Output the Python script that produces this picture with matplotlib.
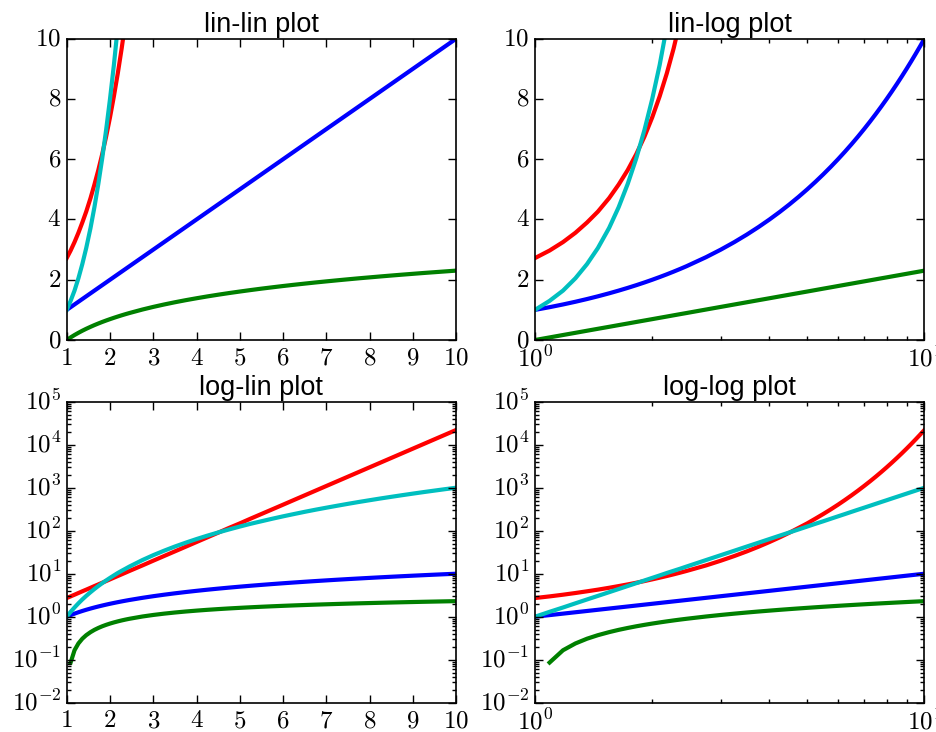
import math
import matplotlib
matplotlib.use("Agg")
import matplotlib.pyplot as plt
from matplotlib.ticker import FuncFormatter, LogLocator, NullFormatter

# values
x_vals = [1.0, 1.09, 1.18, 1.27, 1.36, 1.45, 1.55, 1.64, 1.73, 1.82, 1.91, 2.0,
          2.09, 2.18, 2.27, 2.36, 2.45, 2.75, 3.0, 3.25, 3.5, 3.75, 4.0, 4.25,
          4.5, 4.75, 5.0, 5.25, 5.5, 5.75, 6.0, 6.25, 6.5, 6.75, 7.0, 7.25,
          7.5, 7.75, 8.0, 8.25, 8.5, 8.75, 9.0, 9.25, 9.5, 9.75, 10.0]
blue_vals = [1.0, 1.09, 1.18, 1.27, 1.36, 1.45, 1.55, 1.64, 1.73, 1.82, 1.91, 2.0,
             2.09, 2.18, 2.27, 2.36, 2.45, 2.75, 3.0, 3.25, 3.5, 3.75, 4.0, 4.25,
             4.5, 4.75, 5.0, 5.25, 5.5, 5.75, 6.0, 6.25, 6.5, 6.75, 7.0, 7.25,
             7.5, 7.75, 8.0, 8.25, 8.5, 8.75, 9.0, 9.25, 9.5, 9.75, 10.0]
red_vals = [2.72, 2.97, 3.25, 3.56, 3.90, 4.26, 4.71, 5.16, 5.64, 6.17, 6.75,
            7.39, 8.09, 8.85, 9.68, 10.6, 11.6, 15.6, 20.1, 25.8, 33.1, 42.5,
            54.6, 70.1, 90.0, 116, 148, 191, 245, 314, 403, 518, 665, 854, 1097,
            1408, 1808, 2322, 2981, 3828, 4915, 6311, 8103, 10405, 13360, 17154,
            22026]
cyan_vals = [1.0, 1.30, 1.64, 2.05, 2.52, 3.05, 3.72, 4.41, 5.18, 6.03, 6.97,
             8.0, 9.13, 10.4, 11.7, 13.1, 14.7, 20.8, 27.0, 34.3, 42.9, 52.7,
             64.0, 76.8, 91.1, 107, 125, 145, 166, 190, 216, 244, 275, 308, 343,
             381, 422, 466, 512, 562, 614, 670, 729, 792, 857, 927, 1000]
green_vals = [0.0, 0.086, 0.166, 0.239, 0.308, 0.372, 0.438, 0.495, 0.548,
              0.599, 0.647, 0.693, 0.737, 0.779, 0.820, 0.859, 0.896, 1.012,
              1.099, 1.179, 1.253, 1.322, 1.386, 1.447, 1.504, 1.558, 1.609,
              1.658, 1.705, 1.749, 1.792, 1.833, 1.872, 1.910, 1.946, 1.981,
              2.015, 2.048, 2.079, 2.110, 2.140, 2.169, 2.197, 2.225, 2.251,
              2.277, 2.303]

titles = ["lin-lin plot", "lin-log plot", "log-lin plot", "log-log plot"]
x_scales = ["linear", "log", "linear", "log"]
y_scales = ["linear", "linear", "log", "log"]

plt.style.use("classic")
plt.rcParams["mathtext.fontset"] = "cm"
plt.rcParams["font.family"] = ["Liberation Sans", "DejaVu Sans"]

fig = plt.figure(figsize=(9.36, 7.32), dpi=100, facecolor="white")

positions = [
    [0.0713, 0.5355, 0.416, 0.4116],
    [0.5716, 0.5355, 0.416, 0.4116],
    [0.0713, 0.0400, 0.416, 0.4112],
    [0.5716, 0.0400, 0.416, 0.4112],
]

lin_fmt = FuncFormatter(lambda v, p: r"$%d$" % round(v))
log_fmt = FuncFormatter(lambda v, p: r"$10^{%d}$" % round(math.log10(v)))

for pos, title, xs, ys in zip(positions, titles, x_scales, y_scales):
    ax = fig.add_axes(pos)
    ax.set_facecolor("white")
    if xs == "log":
        ax.set_xscale("log", nonpositive="mask")
    if ys == "log":
        ax.set_yscale("log", nonpositive="mask")
    ax.plot(x_vals, blue_vals, color="b", lw=3)
    ax.plot(x_vals, red_vals, color="r", lw=3)
    ax.plot(x_vals, cyan_vals, color="c", lw=3)
    ax.plot(x_vals, green_vals, color="g", lw=3)
    ax.set_xlim(1, 10)
    if ys == "log":
        ax.set_ylim(1e-2, 1e5)
        ax.yaxis.set_major_locator(LogLocator(base=10, numticks=10))
        ax.yaxis.set_minor_locator(LogLocator(base=10, subs=range(2, 10), numticks=10))
        ax.yaxis.set_major_formatter(log_fmt)
        ax.yaxis.set_minor_formatter(NullFormatter())
    else:
        ax.set_ylim(0, 10)
        ax.set_yticks([0, 2, 4, 6, 8, 10])
        ax.yaxis.set_major_formatter(lin_fmt)
    if xs == "log":
        ax.xaxis.set_major_locator(LogLocator(base=10, numticks=10))
        ax.xaxis.set_minor_locator(LogLocator(base=10, subs=range(2, 10), numticks=10))
        ax.xaxis.set_major_formatter(log_fmt)
        ax.xaxis.set_minor_formatter(NullFormatter())
    else:
        ax.set_xticks(range(1, 11))
        ax.xaxis.set_major_formatter(lin_fmt)
    ax.tick_params(which="both", direction="in", top=True, right=True,
                   labelsize=18, width=1)
    ax.tick_params(which="major", length=6, pad=4)
    ax.tick_params(which="minor", length=3)
    for sp in ax.spines.values():
        sp.set_linewidth(1.2)
    ax.set_title(title, fontsize=19.5, pad=5)

fig.savefig("out.png", dpi=100, facecolor="white")
